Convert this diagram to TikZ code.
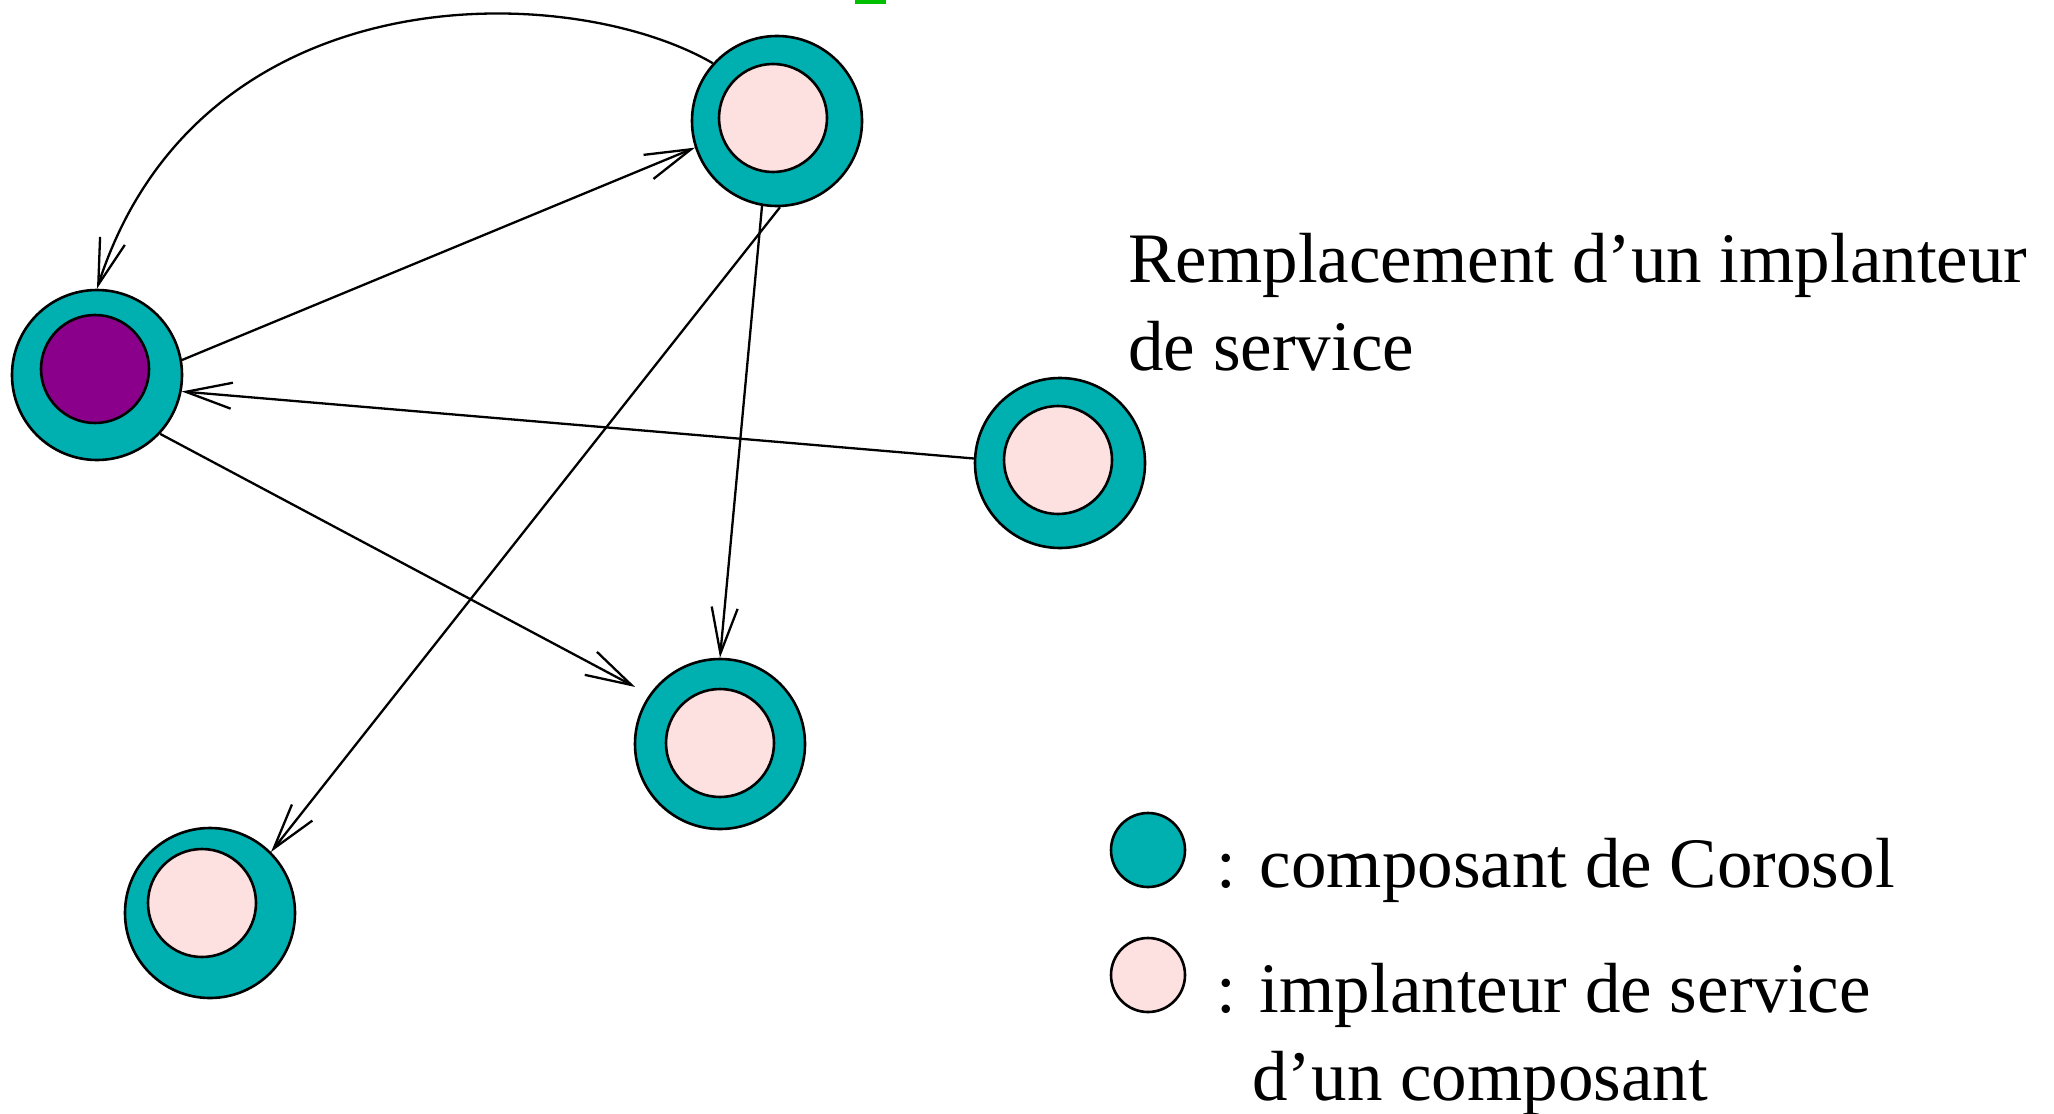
\documentclass[tikz,border=0pt]{standalone}
\usepackage{fontspec}
\setmainfont{Liberation Serif}
\usetikzlibrary{arrows.meta}
\definecolor{tealc}{RGB}{0,176,176}
\definecolor{pinkc}{RGB}{253,224,224}
\definecolor{purpc}{RGB}{139,0,139}
\definecolor{grnc}{RGB}{0,190,0}
\begin{document}
\begin{tikzpicture}[x=0.5pt,y=-0.5pt,
  outer/.style={circle,draw=black,line width=1.3pt,fill=tealc,minimum size=85pt,inner sep=0pt},
  innerc/.style={circle,draw=black,line width=1.3pt,fill=pinkc,minimum size=54pt,inner sep=0pt},
  legc/.style={circle,draw=black,line width=1.3pt,minimum size=37pt,inner sep=0pt},
  conn/.style={line width=1.15pt,-{Straight Barb[length=23pt,width=13pt,line width=1.15pt]}},
  lbl/.style={font=\fontsize{35.5}{44}\selectfont,inner sep=0pt,anchor=base west,align=left}]
\useasboundingbox (0,0) rectangle (2054,1113);
\fill[grnc] (855,0) rectangle (886,4);
\node[outer] (T) at (777,121) {};
\node[innerc] (Ti) at (773,118) {};
\node[outer] (L) at (97,375) {};
\node[innerc,fill=purpc] (Li) at (95,369) {};
\node[outer] (R) at (1060,463) {};
\node[innerc] (Ri) at (1058,460) {};
\node[outer] (M) at (720,744) {};
\node[innerc] (Mi) at (720,743) {};
\node[outer] (B) at (210,913) {};
\node[innerc] (Bi) at (202,903) {};
\draw[conn] (T.138) .. controls (570,-20) and (200,-30) .. (L.north);
\draw[conn] (L.10) -- (T.198);
\draw[conn] (R.177) -- (L.349);
\draw[conn,shorten >=8pt] (L.317) -- (M.145);
\draw[conn] (T.260) -- (M.north);
\draw[conn] (T.272) -- (B.45);
\node[legc,fill=tealc] (lg1) at (1148,850) {};
\node[legc,fill=pinkc] (lg2) at (1148,975) {};
\node[lbl] (t1) at (1128,370) {Remplacement d'un implanteur\\de service};
\node[lbl] (t2) at (1216,887) {: composant de Corosol};
\node[lbl] (t3) at (1216,1100) {: implanteur de service\\\hspace*{18pt}d'un composant};
\end{tikzpicture}
\end{document}
